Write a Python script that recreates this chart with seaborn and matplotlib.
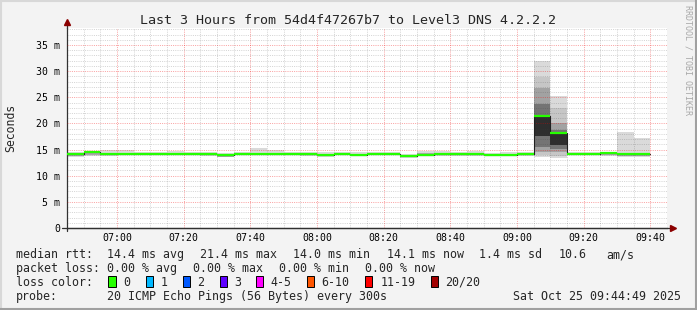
import matplotlib
matplotlib.use("Agg")
import matplotlib.pyplot as plt
import numpy as np
import pandas as pd
import seaborn as sns
from matplotlib.lines import Line2D
from matplotlib.patches import Rectangle

# ---------------- data ----------------
bar_start = ["06:45", "06:50", "06:55", "07:00", "07:05", "07:10", "07:15",
             "07:20", "07:25", "07:30", "07:35", "07:40", "07:45", "07:50",
             "07:55", "08:00", "08:05", "08:10", "08:15", "08:20", "08:25",
             "08:30", "08:35", "08:40", "08:45", "08:50", "08:55", "09:00",
             "09:05", "09:10", "09:15", "09:20", "09:25", "09:30", "09:35"]
median_ms = [14.1, 14.45, 14.1, 14.1, 14.1, 14.1, 14.1, 14.1, 14.1, 13.9,
             14.1, 14.1, 14.1, 14.2, 14.1, 14.0, 14.1, 14.0, 14.1, 14.1,
             13.8, 14.0, 14.1, 14.1, 14.1, 14.0, 14.0, 14.1, 21.4, 18.2,
             14.1, 14.1, 14.3, 14.1, 14.1]
ping_min = [13.5, 13.8, 13.8, 13.9, 13.9, 13.9, 13.9, 13.9, 13.8, 13.5,
            13.9, 13.9, 13.9, 13.9, 13.8, 13.6, 13.9, 13.8, 13.9, 13.9,
            13.3, 13.7, 13.7, 13.8, 13.7, 13.7, 13.7, 13.8, 13.6, 13.3,
            13.9, 13.9, 13.8, 13.6, 13.6]
ping_q1 = [13.7, 13.9, 13.9, 14.0, 14.0, 14.0, 14.0, 14.0, 13.9, 13.6,
           14.0, 14.0, 14.0, 14.0, 14.0, 13.8, 14.0, 13.9, 14.0, 14.0,
           13.5, 13.8, 13.9, 13.9, 13.9, 13.8, 13.8, 13.9, 17.5, 15.9,
           14.0, 14.0, 13.9, 13.8, 13.8]
ping_q3 = [14.3, 14.5, 14.4, 14.3, 14.3, 14.3, 14.3, 14.3, 14.3, 14.1,
           14.3, 14.4, 14.4, 14.4, 14.3, 14.2, 14.3, 14.2, 14.3, 14.3,
           14.0, 14.3, 14.3, 14.3, 14.3, 14.2, 14.2, 14.3, 21.6, 18.3,
           14.3, 14.3, 14.4, 14.4, 14.4]
ping_max = [14.5, 14.7, 14.9, 14.9, 14.5, 14.6, 14.7, 14.5, 14.5, 14.4,
            14.5, 15.3, 15.0, 14.6, 14.6, 14.5, 14.5, 14.5, 14.6, 14.5,
            14.2, 14.7, 14.7, 14.6, 14.8, 14.4, 14.5, 14.5, 32.0, 25.3,
            14.5, 14.5, 14.6, 18.3, 17.3]
# extra smoke layers of the two slow intervals
spike_start = ["09:05", "09:10"]
spike_b2_lo = [14.0, 13.8]
spike_b2_hi = [28.9, 22.9]
spike_b3_lo = [14.6, 14.6]
spike_b3_hi = [26.7, 20.0]
spike_b4_lo = [15.5, 15.2]
spike_b4_hi = [23.8, 18.8]

xtick_labels = ["07:00", "07:20", "07:40", "08:00", "08:20", "08:40",
                "09:00", "09:20", "09:40"]
ytick_values = [0, 5, 10, 15, 20, 25, 30, 35]
ytick_labels = ["0", "5 m", "10 m", "15 m", "20 m", "25 m", "30 m", "35 m"]

title = "Last 3 Hours from 54d4f47267b7 to Level3 DNS 4.2.2.2"
stats_rtt = ["median rtt:", "14.4 ms avg", "21.4 ms max", "14.0 ms min",
             "14.1 ms now", "1.4 ms sd", "10.6", "am/s"]
stats_loss = ["packet loss:", "0.00 % avg", "0.00 % max", "0.00 % min",
              "0.00 % now"]
loss_labels = ["0", "1", "2", "3", "4-5", "6-10", "11-19", "20/20"]
loss_colors = ["#26ff00", "#00b8ff", "#0059ff", "#5e00ff", "#ff00ff",
               "#ff5500", "#ff0000", "#a10000"]
probe_text = ["probe:", "20 ICMP Echo Pings (56 Bytes) every 300s",
              "Sat Oct 25 09:44:49 2025"]
watermark = "RRDTOOL / TOBI OETIKER"

# ---------------- helpers ----------------
T0 = 6 * 60 + 45  # 06:45, left edge of the graph
STEP = 5


def to_min(s):
    h, m = s.split(":")
    return int(h) * 60 + int(m) - T0


W, H = 697, 310


def fx(px):
    return px / W


def fy(py):
    return 1 - py / H


sns.set_style("white")
plt.rcParams['font.family'] = ['DejaVu Sans Mono', 'DejaVu Sans']

fig = plt.figure(figsize=(W / 100, H / 100), dpi=100, facecolor="#f3f3f3")
ax = fig.add_axes([fx(67), fy(228), 600 / W, 200 / H])
ax.set_facecolor("white")

df = pd.DataFrame({
    "t": [to_min(s) for s in bar_start],
    "median": median_ms,
    "pmin": ping_min, "q1": ping_q1, "q3": ping_q3, "pmax": ping_max,
})
spike_t = [to_min(s) for s in spike_start]

# smoke: outer band
ax.bar(df["t"], df["pmax"] - df["pmin"], bottom=df["pmin"], width=STEP,
       align="edge", color="#dadada", linewidth=0, zorder=1)
# extra layers for the slow intervals
for lo, hi, col in [(spike_b2_lo, spike_b2_hi, "#c6c6c6"),
                    (spike_b3_lo, spike_b3_hi, "#a2a2a2"),
                    (spike_b4_lo, spike_b4_hi, "#747474")]:
    ax.bar(spike_t, np.array(hi) - np.array(lo), bottom=lo, width=STEP,
           align="edge", color=col, linewidth=0, zorder=1)
# inner band
inner_col = ["#2e2e2e" if t in spike_t else "#a8a8a8" for t in df["t"]]
ax.bar(df["t"], df["q3"] - df["q1"], bottom=df["q1"], width=STEP,
       align="edge", color=inner_col, linewidth=0, zorder=1)

# median step line (dark) + green loss-colored segments
step_df = pd.DataFrame({
    "t": list(df["t"]) + [df["t"].iloc[-1] + STEP],
    "median": list(df["median"]) + [df["median"].iloc[-1]],
})
sns.lineplot(data=step_df, x="t", y="median", drawstyle="steps-post",
             color="#202020", linewidth=0.8, ax=ax, zorder=3, legend=False)
ax.hlines(df["median"], df["t"], df["t"] + STEP, colors=loss_colors[0],
          linewidth=1.6, zorder=4)

# axes limits, ticks, grid
ax.set_xlim(0, 180)
ax.set_ylim(0, 38.25)
ax.set_xticks([to_min(s) for s in xtick_labels])
ax.set_xticklabels(xtick_labels)
ax.set_xticks(np.arange(0, 181, 5), minor=True)
ax.set_yticks(ytick_values)
ax.set_yticklabels(ytick_labels)
ax.set_yticks(np.arange(0, 39, 1), minor=True)
ax.set_axisbelow(False)
ax.grid(which="minor", color="#404040", alpha=0.22, linewidth=0.72,
        linestyle=(0, (1, 1.2)), zorder=2)
ax.grid(which="major", color="#f00000", alpha=0.36, linewidth=0.72,
        linestyle=(0, (1, 1.2)), zorder=2)
ax.tick_params(which="both", length=0)
ax.tick_params(axis="x", pad=3.4, labelsize=7.1, colors="black")
ax.tick_params(axis="y", pad=5.0, labelsize=7.1, colors="black")
for side in ["top", "right"]:
    ax.spines[side].set_visible(False)
for side in ["left", "bottom"]:
    ax.spines[side].set_color("#303030")
    ax.spines[side].set_linewidth(0.9)
ax.set_xlabel("")
ax.set_ylabel("")

# axis extensions and arrows
ax.add_line(Line2D([0, 0], [1.0, 1.03], transform=ax.transAxes,
                   color="#303030", lw=0.9, clip_on=False))
ax.add_line(Line2D([0, 0], [-0.015, 0], transform=ax.transAxes,
                   color="#303030", lw=0.9, clip_on=False))
ax.add_line(Line2D([-0.008, 1.01], [0, 0], transform=ax.transAxes,
                   color="#303030", lw=0.9, clip_on=False))
ax.plot([0], [1.03], marker="^", markersize=4.5, color="#8b0000",
        transform=ax.transAxes, clip_on=False, zorder=6)
ax.plot([1.01], [0], marker=">", markersize=4.5, color="#8b0000",
        transform=ax.transAxes, clip_on=False, zorder=6)

# title, unit label, watermark
fig.text(fx(348.5), fy(24), title, ha="center", va="baseline", fontsize=9.6)
fig.text(fx(11), fy(128), "Seconds", rotation=90, ha="center", va="center",
         fontsize=8.3)
fig.text(fx(688), fy(5), watermark, rotation=270, ha="center", va="top",
         fontsize=6.0, color="#a8a8a8")

# legend area
LEG = 8.35
row_y = [258, 272, 285.8, 299.6]
rtt_x = [16, 107.3, 200, 292.7, 386.7, 479.3, 558.3, 606.7]
for s, x in zip(stats_rtt, rtt_x):
    fig.text(fx(x), fy(row_y[0]), s, ha="left", va="baseline", fontsize=LEG)
loss_x = [16, 107.3, 193.3, 279.3, 365]
for s, x in zip(stats_loss, loss_x):
    fig.text(fx(x), fy(row_y[1]), s, ha="left", va="baseline", fontsize=LEG)
fig.text(fx(16), fy(row_y[2]), "loss color:", ha="left", va="baseline",
         fontsize=LEG)
box_x = [108.3, 145.7, 182.7, 220, 256, 306.7, 365, 430.7]
lab_x = [123.3, 161, 197.3, 234.3, 270.7, 321.7, 380.7, 445]
for lab, col, bx, lx in zip(loss_labels, loss_colors, box_x, lab_x):
    fig.patches.append(Rectangle((fx(bx), fy(287.3)), 7.3 / W, 11.3 / H,
                                 transform=fig.transFigure, facecolor=col,
                                 edgecolor="black", linewidth=0.7))
    fig.text(fx(lx), fy(row_y[2]), lab, ha="left", va="baseline", fontsize=LEG)
fig.text(fx(16), fy(row_y[3]), probe_text[0], ha="left", va="baseline",
         fontsize=LEG)
fig.text(fx(107.3), fy(row_y[3]), probe_text[1], ha="left", va="baseline",
         fontsize=LEG)
fig.text(fx(513.3), fy(row_y[3]), probe_text[2], ha="left", va="baseline",
         fontsize=LEG)

# frame around the image
fig.add_artist(Line2D([0, 1], [1 - 0.5 / H, 1 - 0.5 / H], color="#d8d8d8",
                      lw=1.5, transform=fig.transFigure))
fig.add_artist(Line2D([0.5 / W, 0.5 / W], [0, 1], color="#d8d8d8",
                      lw=1.5, transform=fig.transFigure))
fig.add_artist(Line2D([0, 1], [1 / H, 1 / H], color="#a0a0a0",
                      lw=1.5, transform=fig.transFigure))
fig.add_artist(Line2D([1 - 1 / W, 1 - 1 / W], [0, 1], color="#a0a0a0",
                      lw=1.5, transform=fig.transFigure))

fig.savefig("out.png", dpi=100, facecolor=fig.get_facecolor())
